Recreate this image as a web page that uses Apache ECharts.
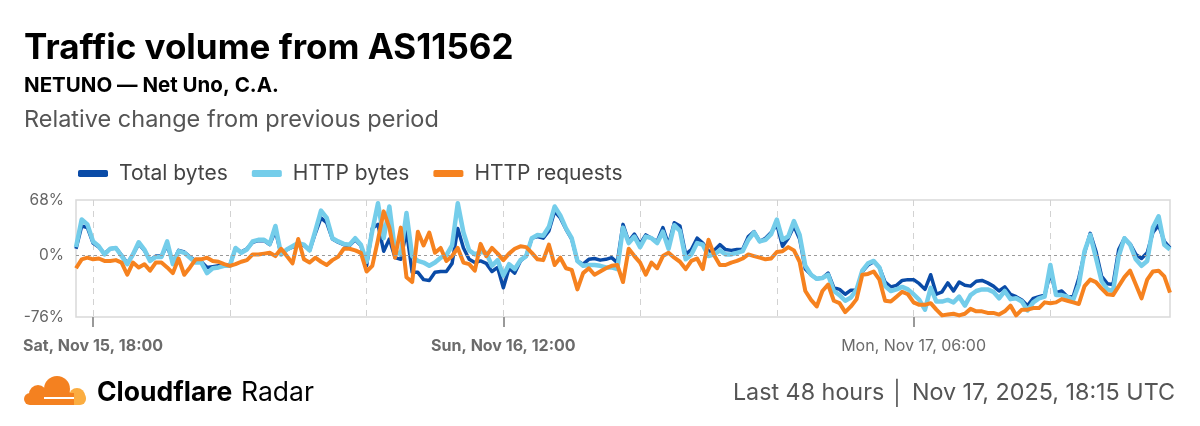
<!DOCTYPE html>
<html><head><meta charset="utf-8">
<script src="https://cdn.jsdelivr.net/npm/echarts@6/dist/echarts.min.js"></script>
<style>html,body{margin:0;padding:0;background:#fff}#c{width:1200px;height:426px}</style>
</head><body><div id="c"></div>
<script>
// ---- data (relative change %, 15-minute steps, Nov 15 17:15 UTC -> Nov 17 17:15 UTC) ----
const startUTC = Date.UTC(2025, 10, 15, 17, 15);
const stepMinutes = 15;
const seriesNames = ['Total bytes', 'HTTP bytes', 'HTTP requests'];
const yTickLabels = [68, 0, -76];

const totalBytes = [
 8, 36, 34, 15, 10, 2, 8, 9, 0, -10, 1, 14, 6, -6, -1, -1, 12, -9, 6, 4, -2, -7, -8, -15, -14, -13, -12, -12, 8, 4, 8, 16,
 18, 18, 13, 30, 1, 7, 10, 14, 12, 6, 27, 46, 40, 20, 16, 13, 12, 19, 12, -13, 33, 38, 5, 20, -3, -5, 30, -21, -21, -30, -31, -21,
 -20, -20, -10, 33, 9, -5, -9, -7, -10, -20, -15, -40, -16, -22, -7, -1, 21, 23, 21, 30, 54, 46, 32, 20, -7, -11, -5, -4, -6, -5, -3, -9,
 38, 17, 26, 14, 25, 21, 17, 34, 13, 40, 36, 1, 7, 21, 15, 5, 6, 13, 7, 6, 7, 7, 23, 29, 17, 21, 28, 38, 11, 21, 36, 20,
 -17, -24, -29, -28, -22, -40, -42, -48, -43, -43, -20, -12, -8, -15, -33, -39, -37, -31, -30, -30, -35, -42, -24, -48, -45, -34, -44, -33, -37, -38, -32, -31,
 -34, -38, -44, -39, -48, -51, -55, -62, -53, -51, -49, -22, -46, -44, -51, -51, -28, 3, 27, 5, -26, -35, -36, 7, 21, 14, 1, -4, 3, 28, 37, 17, 9
];
const httpBytes = [
 10, 44, 38, 17, 11, 1, 8, 9, -1, -11, 1, 16, 7, -7, -2, -2, 17, -11, 5, 3, -3, -9, -9, -22, -16, -15, -13, -13, 9, 3, 7, 17,
 19, 19, 14, 36, 1, 7, 11, 15, 13, 6, 30, 55, 46, 21, 17, 14, 13, 21, 13, -8, 30, 64, 21, 60, 5, 1, 52, -1, -7, -9, -13, -9,
 -3, 0, 12, 64, 28, 6, 1, 4, 3, -13, -6, -25, -11, -17, -6, -1, 21, 25, 24, 35, 60, 49, 33, 21, -7, -13, -12, -12, -13, -15, -15, -17,
 34, 15, 23, 10, 23, 21, 15, 29, 8, 37, 30, -5, 1, 15, 13, -1, 1, 6, 1, 1, 3, 5, 19, 28, 17, 19, 26, 44, 19, 23, 42, 25,
 -13, -24, -29, -28, -24, -44, -49, -56, -52, -42, -19, -10, -7, -15, -38, -44, -42, -39, -42, -48, -55, -67, -40, -57, -57, -55, -58, -51, -62, -49, -44, -42,
 -42, -45, -53, -44, -54, -53, -57, -68, -58, -53, -51, -12, -49, -49, -51, -55, -36, 5, 25, -3, -32, -42, -44, -1, 21, 13, -5, -13, -7, 34, 48, 13, 7
];
const httpRequests = [
 -16, -5, -3, -5, -4, -7, -7, -6, -9, -24, -9, -15, -11, -19, -9, -9, -15, -22, -4, -24, -15, -5, -5, -3, -7, -8, -11, -13, -11, -8, -6, 1,
 1, 2, 3, -1, 8, -1, -10, 20, -5, -9, -3, -8, -12, -6, -2, 8, 8, 6, 3, -20, -13, 19, 54, 34, -3, 34, -27, -33, 29, 12, 28, 3,
 9, -7, -1, 9, -9, -11, -19, 14, -1, 9, 2, -6, 2, 8, 11, 10, 3, -5, -6, 13, -12, -3, -16, -18, -42, -22, -16, -24, -20, -16, -13, -12,
 -33, 8, -1, -9, -24, -9, -16, -1, 3, -3, -8, -17, -7, -4, -17, 19, 0, -12, -12, -9, -7, -4, 1, -1, -3, -5, -4, 4, 5, 10, 6, -8,
 -44, -55, -63, -44, -36, -56, -59, -70, -63, -54, -24, -23, -20, -30, -56, -57, -51, -45, -48, -58, -61, -61, -59, -67, -74, -73, -72, -74, -72, -66, -69, -69,
 -71, -71, -73, -69, -62, -74, -67, -67, -65, -65, -58, -59, -58, -54, -56, -58, -60, -38, -30, -33, -41, -48, -49, -38, -27, -19, -36, -53, -30, -20, -19, -26, -46
];

// ---- categories (timestamps) ----
const DAYS = ['Sun','Mon','Tue','Wed','Thu','Fri','Sat'];
const MONTHS = ['Jan','Feb','Mar','Apr','May','Jun','Jul','Aug','Sep','Oct','Nov','Dec'];
function fmt(t){
  const d = new Date(t);
  const hh = String(d.getUTCHours()).padStart(2,'0');
  const mm = String(d.getUTCMinutes()).padStart(2,'0');
  return DAYS[d.getUTCDay()] + ', ' + MONTHS[d.getUTCMonth()] + ' ' + d.getUTCDate() + ', ' + hh + ':' + mm;
}
const categories = totalBytes.map((_, i) => fmt(startUTC + i * stepMinutes * 60000));
function hourMin(i){ const d = new Date(startUTC + i*stepMinutes*60000); return [d.getUTCHours(), d.getUTCMinutes(), d.getUTCDate()]; }
const isSixHour = i => { const [h,m] = hourMin(i); return m === 0 && h % 6 === 0; };
const isLabel = i => { const [h,m,dd] = hourMin(i); return m === 0 && ((dd===15&&h===18)||(dd===16&&h===12)||(dd===17&&h===6)); };

const FONT = 'Inter, "Noto Sans", sans-serif';
const chart = echarts.init(document.getElementById('c'), null, {renderer:'canvas'});
chart.setOption({
  animation: false,
  backgroundColor: '#fff',
  textStyle: {fontFamily: FONT},
  title: [
    {text: 'Traffic volume from AS11562', left: 24, top: 31, padding: 0, textStyle:{fontFamily: FONT, fontSize: 35, fontWeight: 'bold', color:'#000'}},
    {text: 'NETUNO — Net Uno, C.A.', left: 24, top: 75, padding: 0, textStyle:{fontFamily: FONT, fontSize: 20.5, fontWeight: 'bold', color:'#000'}},
    {text: 'Relative change from previous period', left: 24, top: 108, padding: 0, textStyle:{fontFamily: FONT, fontSize: 23.5, fontWeight: 'normal', color:'#555'}}
  ],
  legend: {
    left: 78, top: 163, padding: 0, icon: 'roundRect', itemWidth: 30, itemHeight: 7, itemGap: 24,
    textStyle: {fontFamily: FONT, fontSize: 21, color:'#444', padding:[0,0,0,6]},
    data: seriesNames
  },
  grid: {left: 76, right: 30, top: 200, bottom: 109, show: true, borderColor: '#d9d9d9', borderWidth: 1.5, containLabel: false},
  xAxis: {
    type: 'category', data: categories, boundaryGap: false,
    axisLine: {show: false, onZero: false},
    axisTick: {show: true, alignWithLabel: true, interval: (i) => isLabel(i), length: 10, lineStyle:{color:'#999', width: 2}},
    axisLabel: {
      interval: (i) => isLabel(i), margin: 21, color: '#666', fontSize: 16,
      formatter: (v, i) => (i < 100 ? '{b|' + v + '}' : '{n|' + v + '}'),
      rich: {b: {fontWeight: 'bold', fontFamily: FONT, fontSize: 16, color:'#6b6b6b'}, n: {fontWeight: 'normal', fontFamily: FONT, fontSize: 16, color:'#6b6b6b'}}
    },
    splitLine: {show: true, interval: (i) => isSixHour(i), lineStyle: {color: '#d2d2d2', type: [6,5], width: 1}}
  },
  yAxis: {
    type: 'value', min: -76, max: 68, interval: 4,
    axisLine: {show: false}, axisTick: {show: false}, splitLine: {show: false},
    axisLabel: {
      color: '#666', fontSize: 15.5, margin: 12, fontFamily: FONT,
      formatter: (v) => (yTickLabels.indexOf(v) >= 0 ? v + '%' : '')
    }
  },
  series: [
    {name: seriesNames[0], type: 'line', data: totalBytes, color: '#0A4BA7', showSymbol: false, symbol: 'none',
     lineStyle: {width: 3.5, color: '#0A4BA7', join:'round'},
     markLine: {silent: true, symbol: 'none', label: {show: false}, lineStyle: {color: '#9a9a9a', type: [3,3], width: 1}, data: [{yAxis: 0}]}},
    {name: seriesNames[1], type: 'line', data: httpBytes, color: '#74CDEA', showSymbol: false, symbol: 'none',
     lineStyle: {width: 4.5, color: '#74CDEA', join:'round'}},
    {name: seriesNames[2], type: 'line', data: httpRequests, color: '#F6821F', showSymbol: false, symbol: 'none',
     lineStyle: {width: 4, color: '#F6821F', join:'round'}}
  ],
  graphic: [
    {type: 'group', left: 24, top: 376, children: [
      {type: 'rect', shape: {x: 40, y: 17, width: 22, height: 13, r: [0,6,6,0]}, style: {fill: '#FBAD41'}},
      {type: 'circle', shape: {cx: 53, cy: 21, r: 8}, style: {fill: '#FBAD41'}},
      {type: 'rect', shape: {x: 0, y: 18, width: 50, height: 12, r: [6,0,0,6]}, style: {fill: '#F48120'}},
      {type: 'circle', shape: {cx: 14, cy: 19, r: 9}, style: {fill: '#F48120'}},
      {type: 'circle', shape: {cx: 33, cy: 14, r: 13}, style: {fill: '#F48120'}},
      {type: 'rect', shape: {x: 20, y: 22, width: 30, height: 2}, style: {fill: '#fff'}}
    ]},
    {type: 'text', left: 97, top: 380, style: {text: 'Cloudflare', font: 'bold 26.5px ' + FONT, fill: '#000'}},
    {type: 'text', left: 241, top: 380, style: {text: 'Radar', font: 'normal 26.5px ' + FONT, fill: '#000'}},
    {type: 'text', right: 25, top: 381, style: {text: 'Last 48 hours │ Nov 17, 2025, 18:15 UTC', font: 'normal 23.3px ' + FONT, fill: '#555'}}
  ]
});
</script></body></html>
